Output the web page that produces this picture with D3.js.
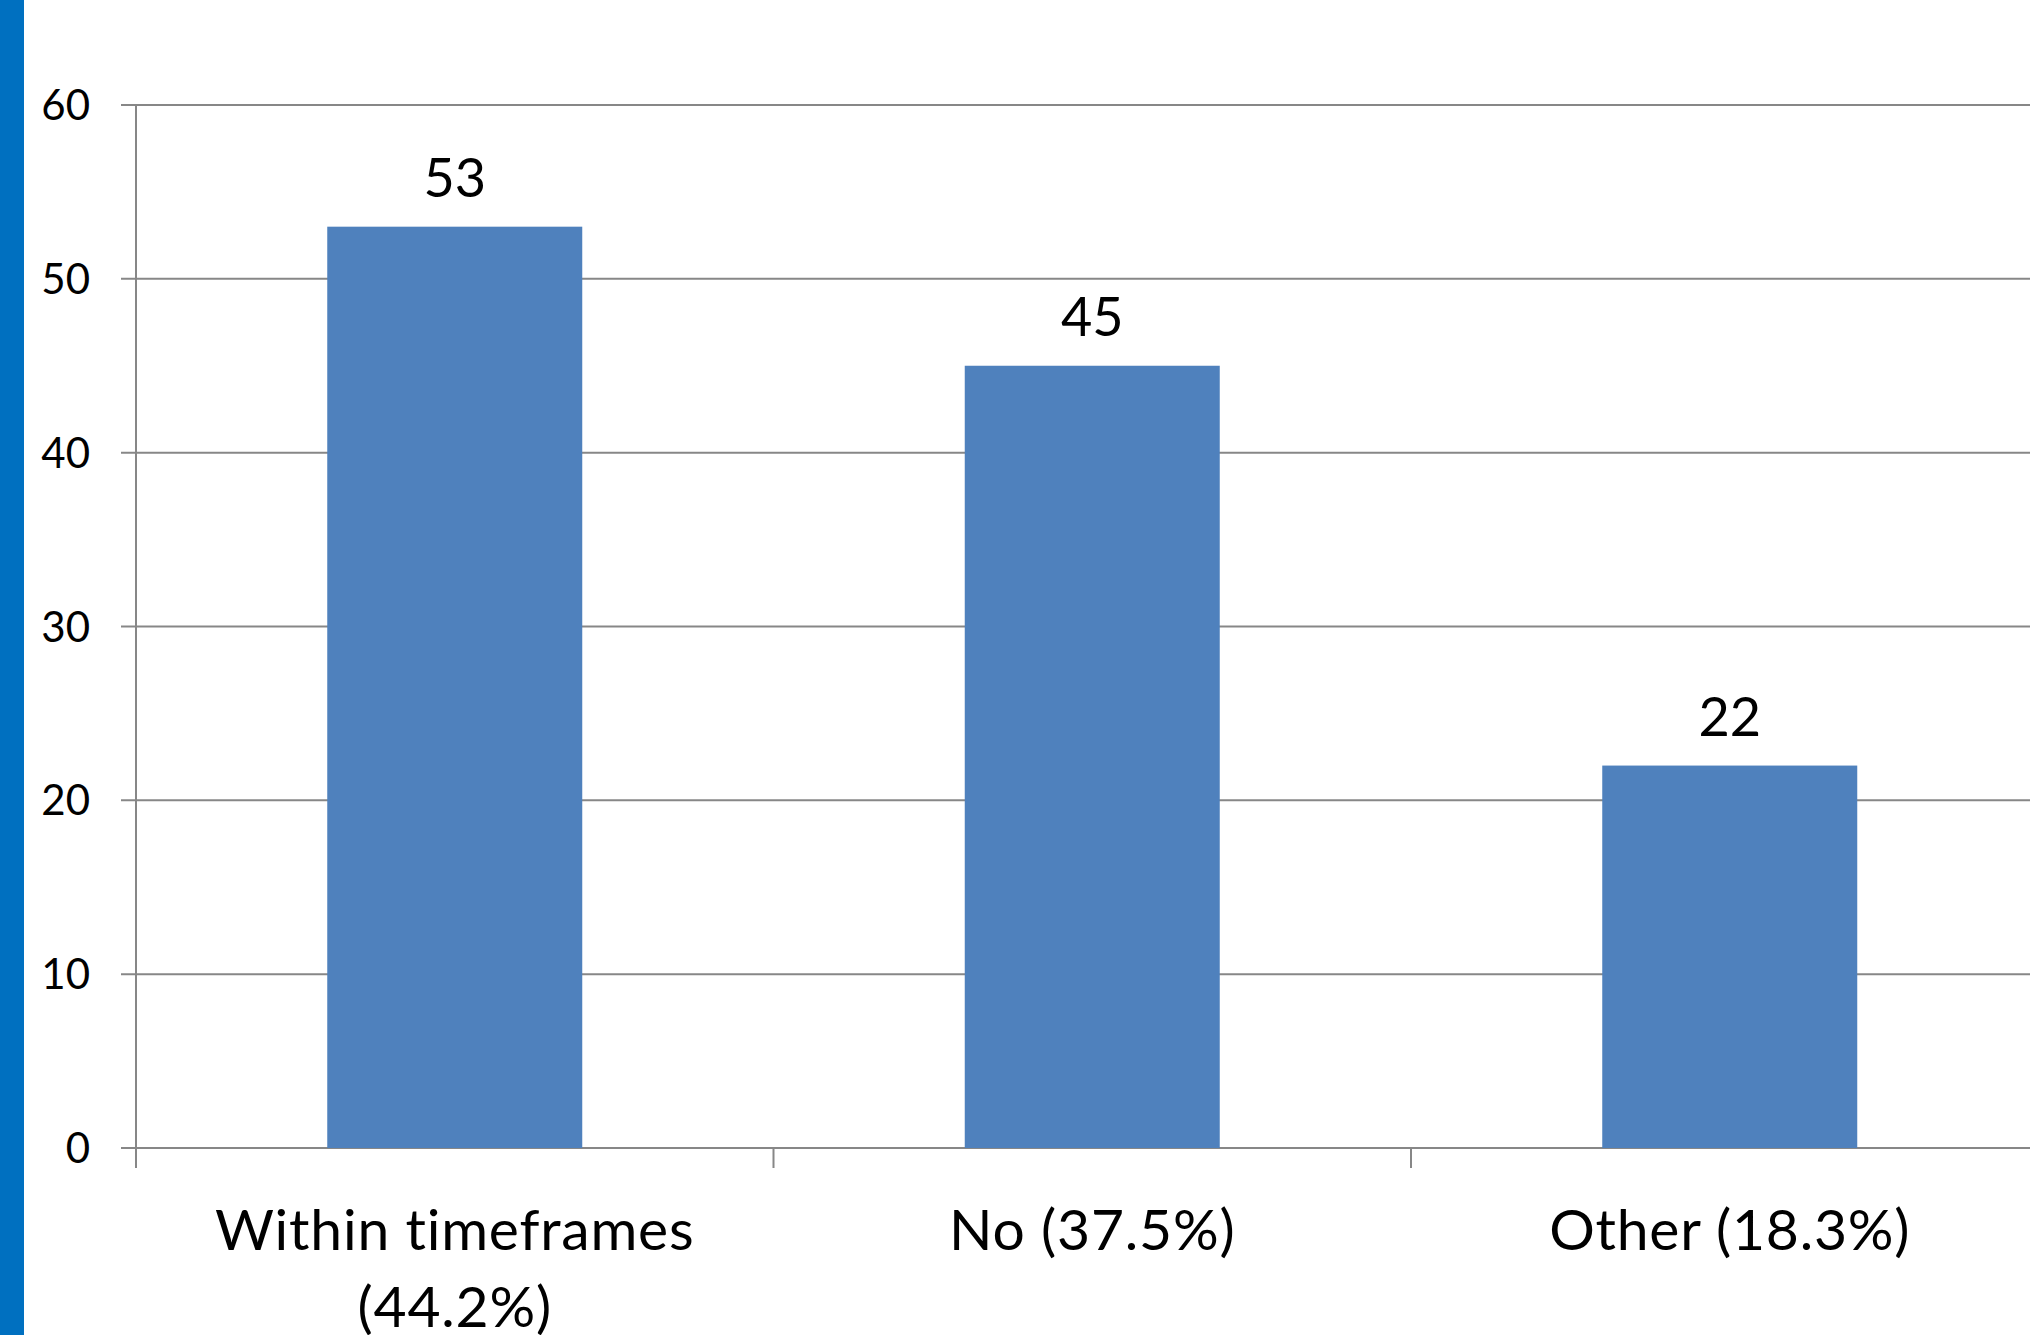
<!DOCTYPE html>
<html>
<head>
<meta charset="utf-8">
<script src="https://cdn.jsdelivr.net/npm/d3@7"></script>
<style>
  html, body { margin: 0; padding: 0; background: #ffffff; }
  svg { display: block; }
  text { font-family: Lato, "Noto Sans", sans-serif; fill: #000; font-variant-ligatures: none; }
</style>
</head>
<body>
<script>
// Responses by timeframe outcome
const categories = ["Within timeframes", "No", "Other"];
const counts = [53, 45, 22];
const labelLines = [["Within timeframes", "(44.2%)"], ["No (37.5%)"], ["Other (18.3%)"]];
const yTicks = [0, 10, 20, 30, 40, 50, 60];
const titleText = "(n = 120)";

const W = 2030, H = 1335;
const plotLeft = 136, plotRight = 2048.5, plotTop = 105, plotBottom = 1148;

const svg = d3.select("body").append("svg")
  .attr("width", W).attr("height", H);

// slide accent stripe
svg.append("rect").attr("x", 0).attr("y", 0).attr("width", 24).attr("height", H)
  .attr("fill", "#0070C0");

// title (runs off the top edge)
svg.append("text").attr("x", 1352).attr("y", -9)
  .attr("font-size", 56).text(titleText);

const x = d3.scaleBand().domain(categories).range([plotLeft, plotRight])
  .paddingInner(0.6).paddingOuter(0.3);
const y = d3.scaleLinear().domain([0, 60]).range([plotBottom, plotTop]);

const grid = "#878787";

// horizontal gridlines with left tick stubs
svg.append("g").selectAll("line").data(yTicks).join("line")
  .attr("x1", plotLeft - 15).attr("x2", W)
  .attr("y1", d => y(d)).attr("y2", d => y(d))
  .attr("stroke", grid).attr("stroke-width", 2);

// y axis labels
svg.append("g").selectAll("text").data(yTicks).join("text")
  .attr("x", 90).attr("y", d => y(d)).attr("dy", "0.36em")
  .attr("text-anchor", "end").attr("font-size", 42)
  .text(d => d);

// bars
svg.append("g").selectAll("rect").data(counts).join("rect")
  .attr("x", (d, i) => x(categories[i]))
  .attr("y", d => y(d))
  .attr("width", x.bandwidth())
  .attr("height", d => y(0) - y(d))
  .attr("fill", "#4F81BD");

// value labels
svg.append("g").selectAll("text").data(counts).join("text")
  .attr("x", (d, i) => x(categories[i]) + x.bandwidth() / 2)
  .attr("y", d => y(d) - 30)
  .attr("text-anchor", "middle").attr("font-size", 54)
  .text(d => d);

// y axis line
svg.append("line").attr("x1", plotLeft).attr("x2", plotLeft)
  .attr("y1", plotTop).attr("y2", plotBottom + 20)
  .attr("stroke", grid).attr("stroke-width", 2);

// category boundary ticks below the baseline
const step = x.step();
const boundaries = d3.range(categories.length).map(i => plotLeft + i * step);
svg.append("g").selectAll("line").data(boundaries).join("line")
  .attr("x1", d => d).attr("x2", d => d)
  .attr("y1", plotBottom).attr("y2", plotBottom + 20)
  .attr("stroke", grid).attr("stroke-width", 2);

// category labels
const cat = svg.append("g").selectAll("text").data(labelLines).join("text")
  .attr("text-anchor", "middle").attr("font-size", 57)
  .attr("letter-spacing", 0.8)
  .attr("transform", (d, i) => `translate(${x(categories[i]) + x.bandwidth() / 2},1250)`);
cat.selectAll("tspan").data(d => d).join("tspan")
  .attr("x", 0).attr("y", (d, j) => j * 77)
  .text(d => d);
</script>
</body>
</html>
